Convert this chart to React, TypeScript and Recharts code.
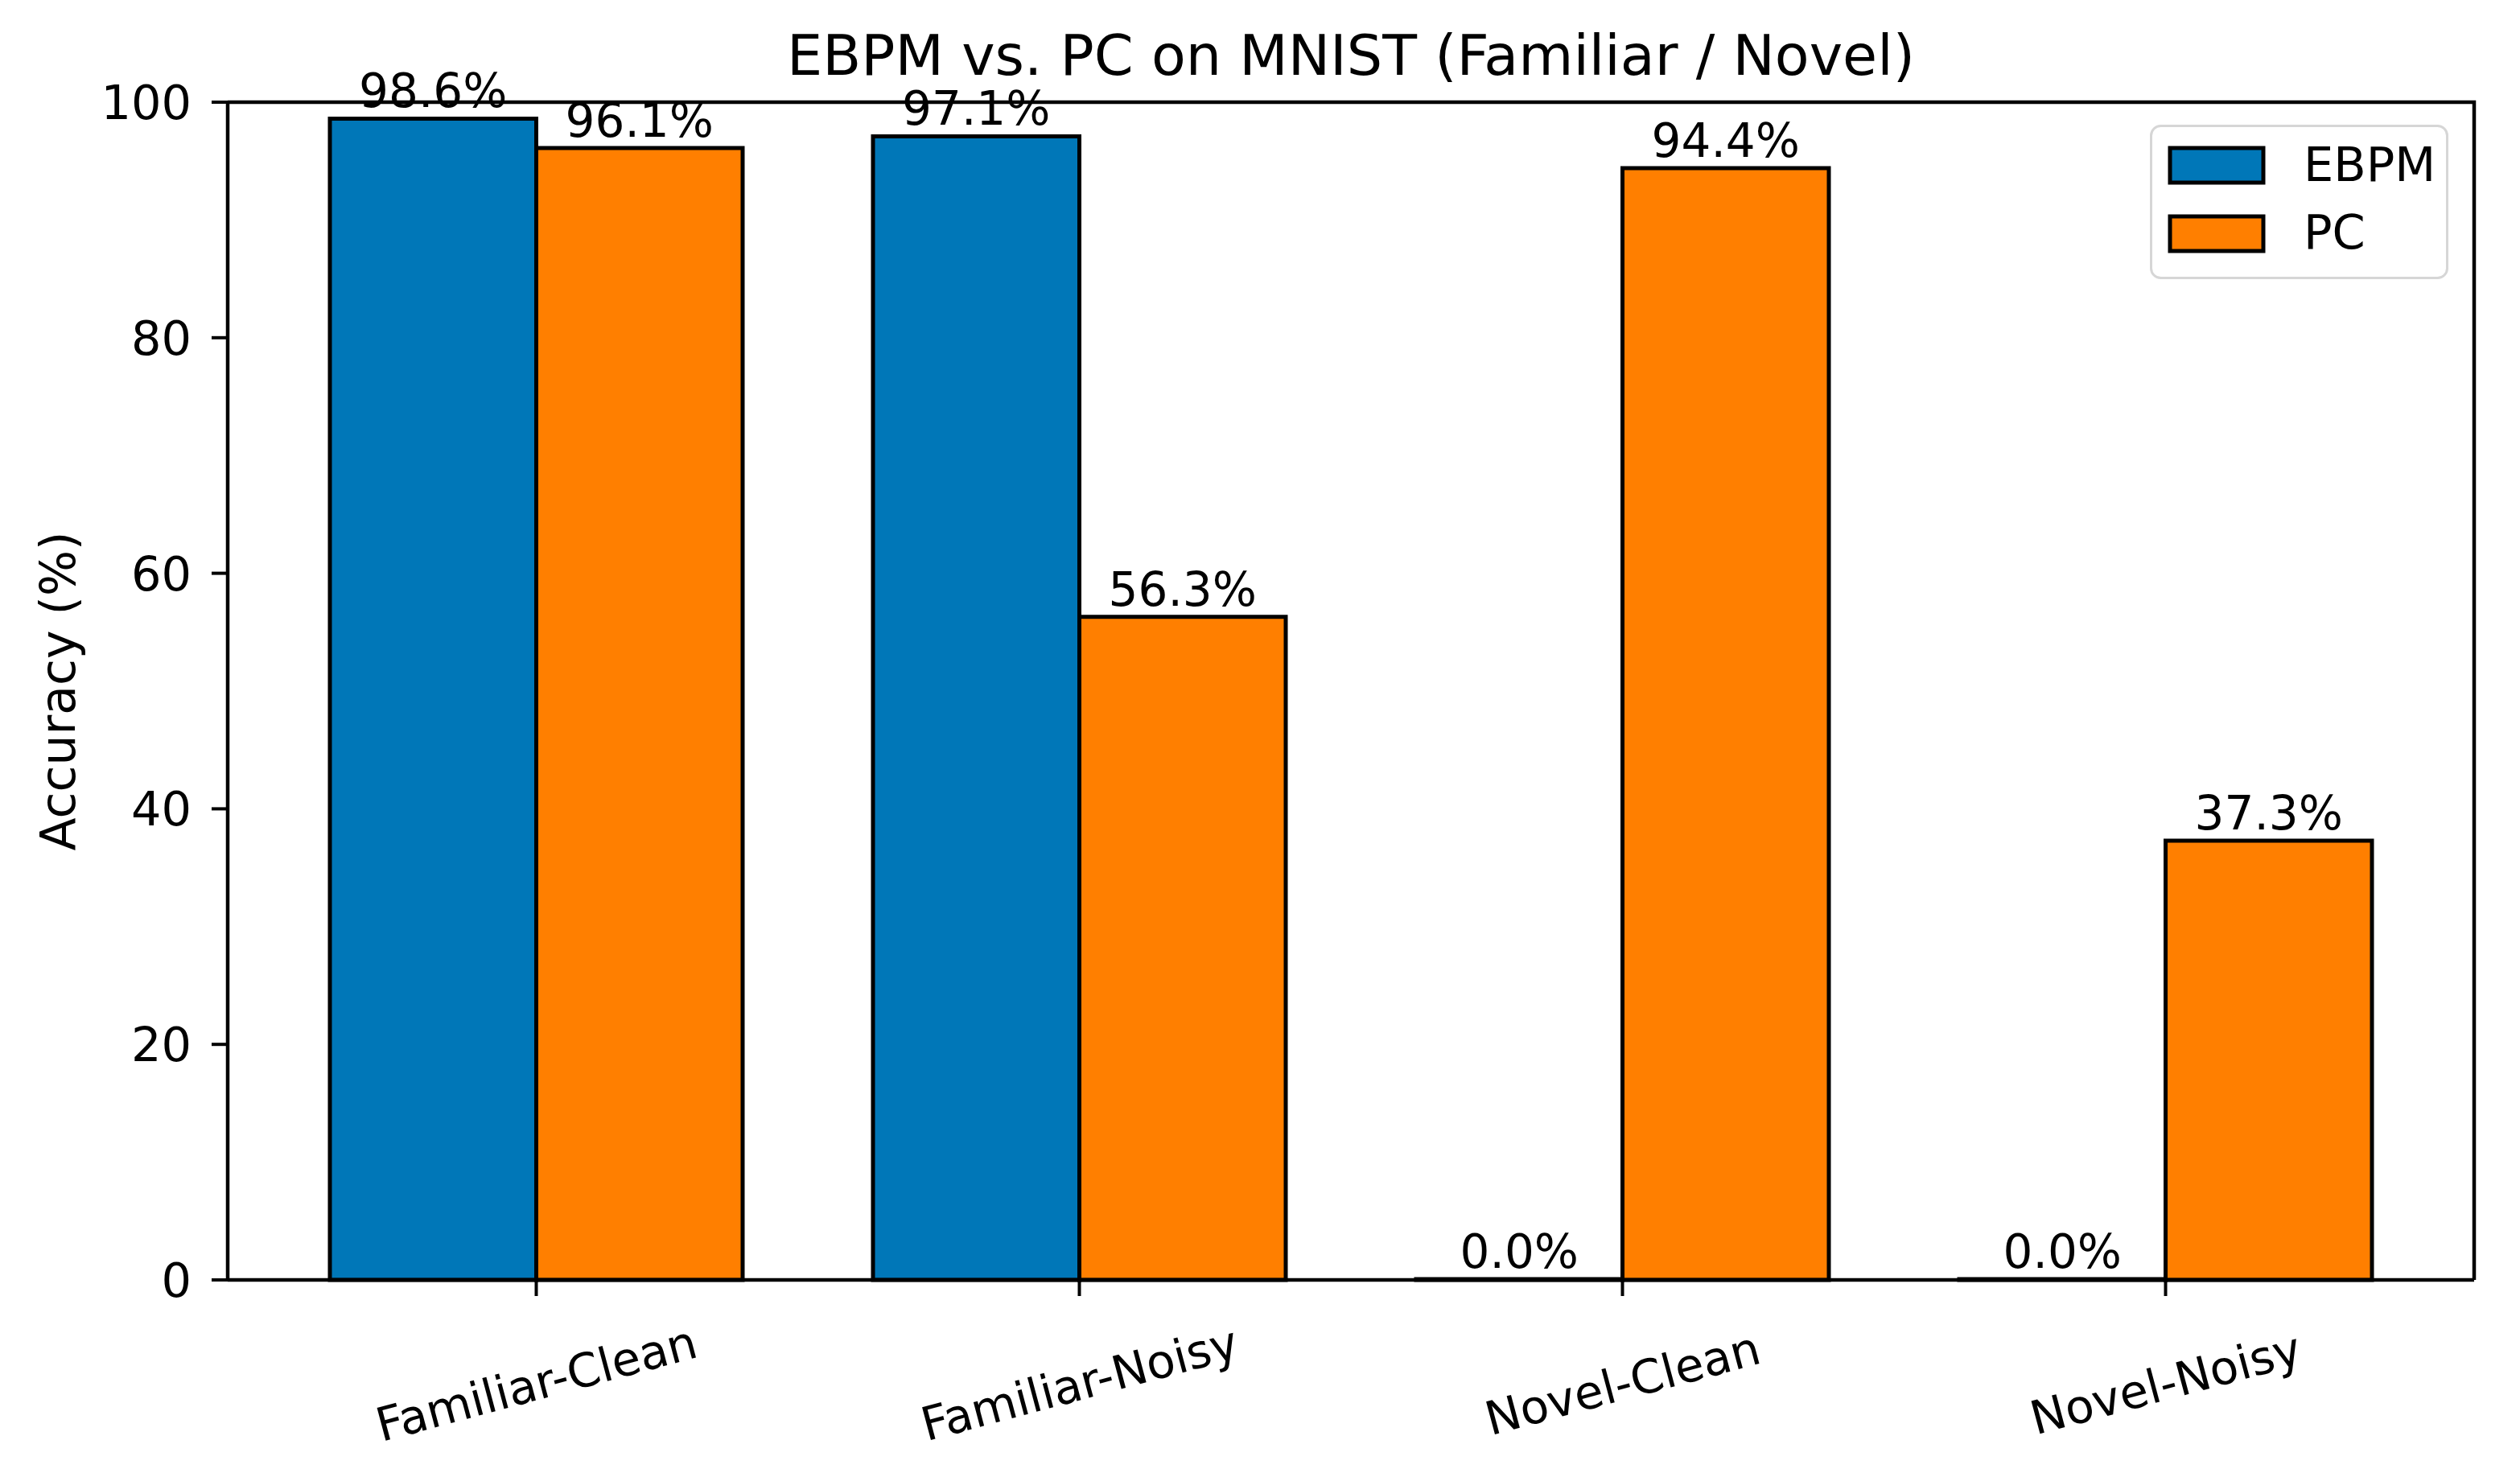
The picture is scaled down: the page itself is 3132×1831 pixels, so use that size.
import React from "react";
import {
  BarChart,
  Bar,
  XAxis,
  YAxis,
  Legend,
  LabelList,
} from "recharts";

// values
const categories = ["Familiar-Clean", "Familiar-Noisy", "Novel-Clean", "Novel-Noisy"];
const ebpmValues = [98.6, 97.1, 0.0, 0.0];
const pcValues = [96.1, 56.3, 94.4, 37.3];
const yTicks = [0, 20, 40, 60, 80, 100];
const seriesNames = ["EBPM", "PC"];
const seriesColors = ["#0077b8", "#ff7f00"];

const FONT = "DejaVu Sans";

// plot box (matches the chart margins below)
const PLOT = { left: 283, top: 127, right: 3075, bottom: 1591 };

const data = categories.map((name, i) => ({
  name,
  EBPM: ebpmValues[i],
  PC: pcValues[i],
}));

const XTick = (props: any) => {
  const { x, y, payload } = props;
  const cy = y + 106;
  return (
    <text
      x={x}
      y={cy}
      dy="0.36em"
      textAnchor="middle"
      fontFamily={FONT}
      fontSize={58}
      fill="#000"
      transform={`rotate(-15, ${x}, ${cy})`}
    >
      {payload.value}
    </text>
  );
};

const barLabel = (props: any) => {
  const { x, y, width, value } = props;
  return (
    <text
      x={x + width / 2}
      y={y - 14}
      textAnchor="middle"
      fontFamily={FONT}
      fontSize={58}
      fill="#000"
    >
      {Number(value).toFixed(1) + "%"}
    </text>
  );
};

const LegendBox = () => (
  <svg width={371} height={192} style={{ display: "block" }}>
    <rect x={1.5} y={1.5} width={368} height={189} rx={12} ry={12} fill="#fff" fillOpacity={0.8} stroke="#d6d6d6" strokeWidth={3} />
    {seriesNames.map((name, i) => (
      <g key={name}>
        <rect x={25} y={29 + i * 85} width={116} height={43} fill={seriesColors[i]} stroke="#000" strokeWidth={5} />
        <text x={191} y={70 + i * 84} fontFamily={FONT} fontSize={59} fill="#000">
          {name}
        </text>
      </g>
    ))}
  </svg>
);

export default function App() {
  return (
    <div style={{ position: "absolute", left: 0, top: 0, width: 3132, height: 1831, background: "#fff" }}>
      <BarChart
        width={3132}
        height={1831}
        data={data}
        margin={{ top: 127, right: 57, left: 83, bottom: 40 }}
        barGap={0}
        barSize={256.5}
      >
        <XAxis
          dataKey="name"
          height={200}
          padding={{ left: 46, right: 46 }}
          tickSize={20}
          tickLine={{ stroke: "#000", strokeWidth: 4 }}
          axisLine={{ stroke: "#000", strokeWidth: 4.5 }}
          tick={<XTick />}
          interval={0}
        />
        <YAxis
          width={200}
          domain={[0, 100]}
          ticks={yTicks}
          interval={0}
          tickSize={20}
          tickMargin={25}
          tickLine={{ stroke: "#000", strokeWidth: 4 }}
          axisLine={{ stroke: "#000", strokeWidth: 4.5 }}
          tick={{ fill: "#000", fontSize: 59, fontFamily: FONT }}
        />
        <Legend
          layout="horizontal"
          verticalAlign="middle"
          align="center"
          content={() => <LegendBox />}
          wrapperStyle={{ left: 2672, top: 155, width: 371, height: 192 }}
        />
        <Bar
          dataKey="EBPM"
          name={seriesNames[0]}
          fill={seriesColors[0]}
          stroke="#000"
          strokeWidth={5}
          minPointSize={1}
          isAnimationActive={false}
        >
          <LabelList dataKey="EBPM" content={barLabel} />
        </Bar>
        <Bar
          dataKey="PC"
          name={seriesNames[1]}
          fill={seriesColors[1]}
          stroke="#000"
          strokeWidth={5}
          isAnimationActive={false}
        >
          <LabelList dataKey="PC" content={barLabel} />
        </Bar>
      </BarChart>
      <svg
        width={3132}
        height={1831}
        style={{ position: "absolute", left: 0, top: 0, pointerEvents: "none" }}
      >
        {/* top and right spines */}
        <polyline
          points={`${PLOT.left},${PLOT.top} ${PLOT.right},${PLOT.top} ${PLOT.right},${PLOT.bottom}`}
          fill="none"
          stroke="#000"
          strokeWidth={4.5}
        />
        <text x={1679} y={93} textAnchor="middle" fontFamily={FONT} fontSize={70} fill="#000">
          EBPM vs. PC on MNIST (Familiar / Novel)
        </text>
        <text
          x={93}
          y={859}
          textAnchor="middle"
          fontFamily={FONT}
          fontSize={60}
          fill="#000"
          transform="rotate(-90, 93, 859)"
        >
          Accuracy (%)
        </text>
      </svg>
    </div>
  );
}
